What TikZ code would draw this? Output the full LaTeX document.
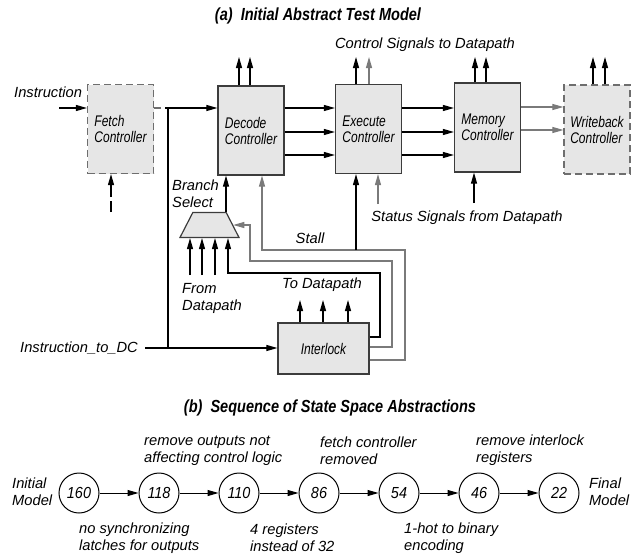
\documentclass[tikz,border=0pt]{standalone}
\usepackage{fontspec}
\setmainfont{Liberation Sans}
\newfontfamily\narrowfont[FakeStretch=0.78]{Liberation Sans}
\newfontfamily\titlefont[FakeStretch=0.83]{Liberation Sans}
\newfontfamily\numfont[FakeStretch=0.9]{Liberation Sans}
\usetikzlibrary{arrows.meta,shapes.geometric}
\definecolor{boxfill}{HTML}{E6E6E6}
\definecolor{boxline}{HTML}{3C3C3C}
\definecolor{dashline}{HTML}{6E6E6E}
\definecolor{wiregray}{HTML}{7A7A7A}
\tikzset{
  ctrl/.style={draw=boxline,fill=boxfill,line width=1.2pt,minimum width=66pt,minimum height=89pt,
    inner sep=0pt,align=left,font=\narrowfont\fontsize{15.4}{16}\selectfont\itshape},
  ghost/.style={ctrl,draw=dashline,dash pattern=on 7pt off 4pt},
  wire/.style={line width=1.1pt},
  sig/.style={wire,-{Triangle[length=11pt,width=6pt]}},
  lbl/.style={font=\fontsize{14.7}{17}\selectfont\itshape,align=left,inner sep=0pt},
  ttl/.style={font=\titlefont\fontsize{17.5}{20}\selectfont\bfseries\itshape,inner sep=0pt},
  state/.style={circle,draw,line width=1pt,minimum size=40pt,inner sep=0pt,
    font=\numfont\fontsize{16}{17}\selectfont\itshape}
}
\begin{document}
\begin{tikzpicture}[x=1pt,y=-1pt]
\useasboundingbox (0,0) rectangle (644,557);
\node[ttl] (titlea) at (318,16) {(a)\ \ Initial Abstract Test Model};
\node[ghost] (fetch) at (120.5,129) {Fetch\\Controller};
\node[ctrl] (decode) at (251,130.5) {Decode\\Controller};
\node[ctrl] (execute) at (368.5,129) {Execute\\Controller};
\node[ctrl] (memory) at (487.5,127.5) {Memory\\Controller};
\node[ghost] (writeback) at (597,129.5) {Writeback\\Controller};
\node[ctrl,minimum width=91pt,minimum height=51pt] (interlock) at (323.5,348.5) {Interlock};
\node[draw=boxline,fill=boxfill,line width=1.2pt,trapezium,trapezium stretches=true,
  trapezium angle=69,minimum width=59pt,minimum height=25pt,inner sep=1pt] (mux) at (209.5,225) {};
\node[lbl,anchor=west] (instr) at (14,92) {Instruction};
\node[lbl] (ctrlsig) at (425,45) {Control Signals to Datapath};
\node[lbl] (status) at (467,218) {Status Signals from Datapath};
\node[lbl,anchor=west] (branch) at (172,193.5) {Branch\\Select};
\node[lbl,anchor=west] (fromdp) at (182,298.5) {From\\Datapath};
\node[lbl] (todp) at (322,285) {To Datapath};
\node[lbl] (stall) at (310,238) {Stall};
\node[lbl,anchor=west] (itodc) at (20,348) {Instruction\_to\_DC};
\coordinate (instrin) at (59,108);
\coordinate (fdec) at (165,108);
\coordinate (jtop) at (168,108);
\coordinate (fin) at (111,212);
\coordinate (fgap) at (111,201);
\coordinate (fmid) at (111,197);
\coordinate (exin) at (378,204);
\coordinate (memin) at (474,203);
\coordinate (stallr) at (405,250);
\coordinate (stallx) at (356,250);
\coordinate (selr) at (392,261);
\coordinate (sell) at (250,225);
\coordinate (regr) at (380,273);
\draw[sig] (instrin) -- (instrin -| fetch.west);
\draw[wire,dashline,dash pattern=on 7pt off 4pt] (fdec -| fetch.east) -- (fdec);
\draw[sig] (fdec) -- (fdec -| decode.west);
\draw[wire] (jtop) -- (jtop |- itodc.east);
\draw[sig] ([xshift=7pt]itodc.east) -- (itodc.east -| interlock.west);
\draw[wire] (fin) -- (fgap);
\draw[sig] (fmid) -- (fmid |- fetch.south);
\foreach \y in {108,132,155}
	{
	\draw[sig] (decode.east |- 0,\y) -- (execute.west |- 0,\y);
	\draw[sig] (execute.east |- 0,\y) -- (memory.west |- 0,\y);
	}
\foreach \y in {107,130}
	{
	\draw[sig,wiregray] (memory.east |- 0,\y) -- (writeback.west |- 0,\y);
	}
\foreach \n/\x/\c in {decode/239/black,decode/250/black,execute/356/black,execute/369/wiregray,
	memory/475/black,memory/486/black,writeback/593/black,writeback/605/black}
	{
	\draw[sig,\c] (\n.north -| \x,0) -- (\x,57);
	}
\draw[sig,wiregray] (exin) -- (exin |- execute.south);
\draw[sig] (memin) -- (memin |- memory.south);
\draw[sig,wiregray] (interlock.east |- 0,360) -| (stallr) -| (decode.south -| 262,0);
\draw[sig] (stallx) -- (stallx |- execute.south);
\draw[sig,wiregray] (interlock.east |- 0,347) -| (selr) -| (sell) -- (mux.east);
\draw[sig] (interlock.east |- 0,337) -| (regr) -| (mux.south -| 228,0);
\foreach \x in {190,202,215}
	{
	\draw[sig] (\x,275) -- (mux.south -| \x,0);
	}
\draw[sig] (mux.north -| 226,0) -- (decode.south -| 226,0);
\foreach \x in {300,323,348}
	{
	\draw[sig] (interlock.north -| \x,0) -- (\x,300);
	}
\node[ttl] (titleb) at (330,408) {(b)\ \ Sequence of State Space Abstractions};
\foreach \v [count=\i] in {160,118,110,86,54,46,22}
	{
	\node[state] (s\i) at (-1+80*\i,493) {\v};
	}
\foreach \i [count=\j from 2] in {1,...,6}
	{
	\draw[sig,line width=1pt] (s\i) -- (s\j);
	}
\node[lbl,anchor=west] (initial) at (12,491.5) {Initial\\Model};
\node[lbl,anchor=west] (final) at (589,491.5) {Final\\Model};
\node[lbl,anchor=west] (rmout) at (144,450.5) {remove outputs not\\affecting control logic};
\node[lbl,anchor=west] (rmfetch) at (320,450.5) {fetch controller\\removed};
\node[lbl,anchor=west] (rmilk) at (476,450.5) {remove interlock\\registers};
\node[lbl,anchor=west] (nosync) at (79,538) {no synchronizing\\latches for outputs};
\node[lbl,anchor=west] (fourreg) at (250,538) {4 registers\\instead of 32};
\node[lbl,anchor=west] (onehot) at (404,538) {1-hot to binary\\encoding};
\end{tikzpicture}
\end{document}
